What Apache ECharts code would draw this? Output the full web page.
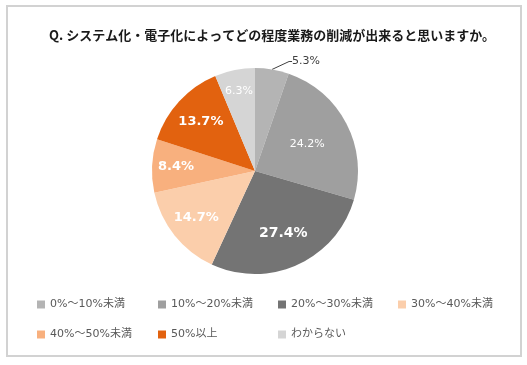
<!DOCTYPE html>
<html><head><meta charset="utf-8">
<script src="https://cdn.jsdelivr.net/npm/echarts@6/dist/echarts.min.js"></script>
<style>
html,body{margin:0;padding:0;background:#fff;}
#frame{position:absolute;left:6px;top:5px;width:512px;height:348px;border:2px solid #d2d2d2;}
#chart{position:absolute;left:0;top:0;width:527px;height:365px;}
</style></head>
<body>
<div id="frame"></div>
<div id="chart"></div>
<script>
const titleText = 'Q. システム化・電子化によってどの程度業務の削減が出来ると思いますか。';
const categories = ['0%～10%未満','10%～20%未満','20%～30%未満','30%～40%未満','40%～50%未満','50%以上','わからない'];
const values = [5.3, 24.2, 27.4, 14.7, 8.4, 13.7, 6.3];

const FONT = '"DejaVu Sans", "Noto Sans CJK JP", sans-serif';
const colors = ['#b4b4b4','#9f9f9f','#747474','#fbceab','#f8b07e','#e2620f','#d5d5d5'];
const labelFont = [
  {size:11, weight:'normal', color:'#404040'},
  {size:11, weight:'normal', color:'#ffffff'},
  {size:14, weight:'bold', color:'#ffffff'},
  {size:13, weight:'bold', color:'#ffffff'},
  {size:13, weight:'bold', color:'#ffffff'},
  {size:13, weight:'bold', color:'#ffffff'},
  {size:11, weight:'normal', color:'#ffffff'}
];
const radialFactor = [1, 1.08, 1.25, 1.38, 1.45, 1.35, 1.5];
const legendPos = [[37,299],[158,299],[278,299],[398,299],[37,329],[158,329],[278,329]];
const cx = 255, cy = 171, R = 103;

const chart = echarts.init(document.getElementById('chart'), null, {renderer:'canvas'});
const data = categories.map((c,i)=>({
  name:c, value:values[i],
  itemStyle:{color:colors[i]},
  label: {position: i===0 ? 'outside' : 'inside', color:labelFont[i].color,
          fontSize:labelFont[i].size, fontWeight:labelFont[i].weight, fontFamily:FONT},
  labelLine: i===0 ? {show:true, length:6, length2:3, lineStyle:{color:'#404040', width:1}} : {show:false}
}));

const legends = categories.map((c,i)=>({
  data:[c], left:legendPos[i][0], top:legendPos[i][1], padding:0,
  icon:'rect', itemWidth:8, itemHeight:8, itemGap:0,
  selectedMode:false,
  textStyle:{fontSize:11, color:'#595959', fontFamily:FONT}
}));

chart.setOption({
  animation:false,
  textStyle:{fontFamily:FONT},
  title:{text:titleText, left:44, top:24,
    textStyle:{fontSize:13, fontWeight:'bold', color:'#1a1a1a', fontFamily:'"Noto Sans CJK JP", sans-serif'}},
  legend:legends,
  series:[{
    type:'pie', center:[cx,cy], radius:[0,R], startAngle:90, clockwise:true,
    avoidLabelOverlap:false,
    itemStyle:{borderWidth:0},
    label:{show:true, formatter: p => p.value.toFixed(1)+'%'},
    labelLayout: function(p){
      const r = p.labelRect;
      if(p.dataIndex===0) return {x: r.x + 11, y: r.y + r.height/2 - 2};
      const lx = r.x + r.width/2, ly = r.y + r.height/2;
      const f = radialFactor[p.dataIndex];
      return {x: cx + (lx-cx)*f, y: cy + (ly-cy)*f};
    },
    data:data
  }]
});
</script>
</body></html>
